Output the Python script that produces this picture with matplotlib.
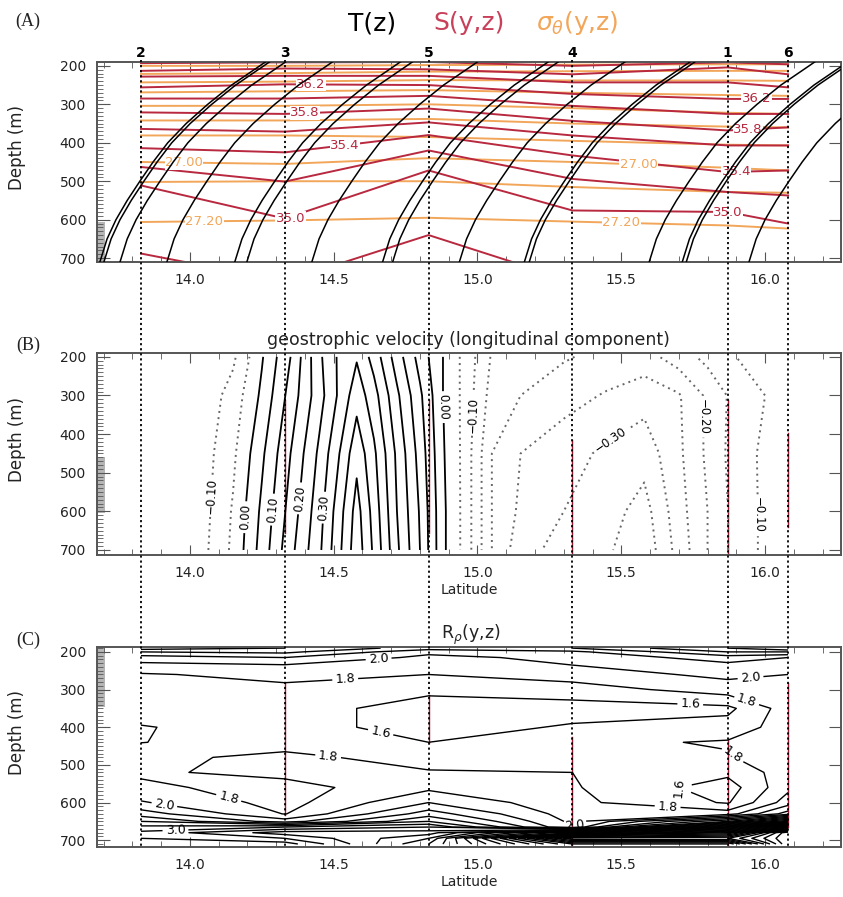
import numpy as np
import matplotlib
matplotlib.use("Agg")
import matplotlib.pyplot as plt
from matplotlib.patches import Rectangle
import matplotlib.transforms as mtransforms

plt.rcParams["font.family"] = ["DejaVu Sans"]

# stations, ordered by latitude
station_names = ["2", "3", "5", "4", "1", "6"]
station_lats = [13.83, 14.33, 14.83, 15.33, 15.87, 16.08]

# ---------------- panel A: T(z) profiles, S and sigma-theta isolines ----------------
t_profile_depth = [710, 650, 600, 550, 500, 450, 400, 350, 300, 250, 200, 185]
t_profile_shift = [0.0, 0.025, 0.056, 0.095, 0.139, 0.185, 0.236, 0.300, 0.375, 0.458, 0.556, 0.585]
t_bottom_lats = [13.687, 13.701, 13.757, 13.920, 14.156, 14.198, 14.424, 14.670,
                 14.705, 14.937, 15.163, 15.180, 15.597, 15.712, 15.726, 15.944]

sal_levels = [36.8, 36.6, 36.4, 36.2, 36.0, 35.8, 35.6, 35.4, 35.2, 35.0, 34.8]
sal_depths = [
    [193, 191, 190, 200, 191, 196],
    [213, 207, 209, 222, 204, 222],
    [228, 226, 226, 243, 243, 256],
    [256, 248, 250, 273, 286, 286],
    [285, 285, 278, 304, 325, 325],
    [321, 325, 311, 343, 368, 360],
    [364, 371, 347, 381, 407, 407],
    [414, 425, 380, 433, 476, 472],
    [463, 501, 420, 494, 528, 537],
    [511, 597, 472, 576, 580, 610],
    [688, 760, 640, 760, 760, 760],
]
sal_labels = ["36.2", "35.8", "35.4", "35.0", "36.2", "35.8", "35.4", "35.0"]
sal_label_lat = [14.42, 14.40, 14.54, 14.35, 15.97, 15.94, 15.90, 15.87]
sal_label_depth = [248, 322, 408, 596, 286, 365, 474, 580]

sig_levels = [26.3, 26.4, 26.5, 26.6, 26.7, 26.8, 26.9, 27.0, 27.1, 27.2]
sig_depths = [
    [200, 200, 198, 197, 196, 196],
    [221, 219, 215, 214, 213, 213],
    [243, 241, 237, 238, 238, 239],
    [269, 266, 263, 270, 276, 278],
    [304, 304, 300, 310, 322, 325],
    [342, 342, 338, 350, 358, 360],
    [381, 381, 385, 395, 405, 407],
    [450, 455, 440, 450, 465, 472],
    [502, 500, 500, 515, 528, 530],
    [606, 602, 595, 605, 615, 623],
]
sig_labels = ["27.00", "27.20", "27.00", "27.20"]
sig_label_lat = [13.98, 14.05, 15.56, 15.50]
sig_label_depth = [452, 604, 456, 608]

# ---------------- panel B: geostrophic velocity ----------------
v_lats = [13.83, 14.05, 14.15, 14.25, 14.35, 14.45, 14.52, 14.58, 14.64, 14.72, 14.80, 14.88,
          14.95, 15.05, 15.15, 15.30, 15.45, 15.58, 15.70, 15.80, 15.90, 16.00, 16.08]
v_depths = [200, 300, 450, 600, 700]
v_200 = [-0.14, -0.14, -0.11, -0.005, 0.10, 0.24, 0.31, 0.345, 0.28, 0.175, 0.08, 0.0,
         -0.06, -0.155, -0.17, -0.195, -0.215, -0.22, -0.175, -0.135, -0.10, -0.08, -0.07]
v_300 = [-0.13, -0.13, -0.08, 0.01, 0.12, 0.23, 0.31, 0.38, 0.32, 0.21, 0.11, 0.0,
         -0.06, -0.17, -0.20, -0.23, -0.255, -0.28, -0.255, -0.19, -0.13, -0.10, -0.08]
v_450 = [-0.12, -0.12, -0.06, 0.04, 0.15, 0.26, 0.35, 0.435, 0.36, 0.24, 0.13, 0.005,
         -0.06, -0.20, -0.25, -0.28, -0.31, -0.33, -0.26, -0.19, -0.125, -0.09, -0.07]
v_600 = [-0.12, -0.115, -0.045, 0.06, 0.17, 0.28, 0.38, 0.47, 0.38, 0.25, 0.145, 0.01,
         -0.06, -0.20, -0.26, -0.30, -0.33, -0.37, -0.27, -0.20, -0.13, -0.09, -0.07]
v_700 = [-0.12, -0.11, -0.04, 0.07, 0.185, 0.29, 0.39, 0.48, 0.39, 0.26, 0.15, 0.01,
         -0.06, -0.20, -0.28, -0.32, -0.343, -0.385, -0.28, -0.20, -0.13, -0.09, -0.07]
v_levels = [-0.40, -0.35, -0.30, -0.25, -0.20, -0.15, -0.10, -0.05,
            0.0, 0.05, 0.10, 0.15, 0.20, 0.25, 0.30, 0.35, 0.40, 0.45]
# label positions (lat, depth) for each labelled level
v_label_pos = {
    -0.30: [(15.45, 400)],
    -0.20: [(15.77, 355)],
    -0.10: [(14.09, 560), (14.98, 350), (15.94, 610)],
    0.0: [(14.19, 615), (14.885, 330)],
    0.10: [(14.28, 595)],
    0.20: [(14.36, 565)],
    0.30: [(14.46, 590)],
}

# ---------------- panel C: density ratio ----------------
rr_depths = [190, 200, 215, 235, 260, 300, 350, 400, 440, 480, 520, 560, 600, 630, 650, 665, 680, 695, 710]
rr_st2 = [2.7, 2.4, 2.1, 1.95, 1.78, 1.7, 1.68, 1.59, 1.595, 1.74, 1.77, 1.84, 2.02, 2.3, 2.6, 2.85, 3.05, 3.0, 2.8]
rr_st3 = [2.6, 2.45, 2.2, 1.99, 1.86, 1.75, 1.7, 1.68, 1.7, 1.86, 1.86, 1.72, 1.72, 1.79, 2.1, 3.0, 3.5, 3.2, 2.9]
rr_st5 = [2.3, 2.05, 1.95, 1.88, 1.8, 1.65, 1.5, 1.52, 1.6, 1.7, 1.82, 1.95, 2.2, 2.5, 2.8, 3.2, 3.5, 3.8, 4.0]
rr_st4 = [2.4, 2.15, 2.05, 2.0, 1.9, 1.7, 1.52, 1.62, 1.75, 1.78, 1.8, 1.82, 1.85, 1.9, 1.95, 2.0, 5.0, 7.0, 6.0]
rr_st1 = [2.8, 2.6, 2.3, 2.15, 2.05, 1.9, 1.55, 1.68, 1.82, 1.78, 1.65, 1.5, 1.58, 1.9, 3.0, 4.5, 6.0, 7.0, 6.0]
rr_st6 = [3.0, 2.6, 2.2, 2.05, 2.0, 1.95, 1.9, 1.9, 1.95, 1.95, 1.9, 1.95, 2.1, 2.5, 4.0, 6.0, 8.0, 8.0, 8.0]
rr_levels = np.round(np.arange(1.4, 8.01, 0.2), 1)
rr_label_pos = {
    2.0: [(14.655, 205), (13.91, 612), (15.35, 673), (15.95, 274)],
    1.8: [(14.54, 272), (14.48, 482), (14.13, 602), (15.85, 500), (15.66, 625), (15.94, 320)],
    1.6: [(14.66, 425), (15.74, 336), (15.64, 593)],
    3.0: [(13.95, 678)],
}

# red profile segments (lat, top depth, bottom depth)
red_b = [(14.33, 311, 656), (14.83, 311, 656), (15.33, 415, 712), (15.87, 311, 712), (16.08, 397, 640)]
red_c = [(14.33, 282, 633), (14.83, 314, 442), (15.33, 426, 718), (15.87, 434, 718), (16.08, 282, 665)]
gray_band = [(607, 712), (459, 604), (187, 346)]

SAL_C = "#b8283f"
SIG_C = "#f2a65a"
W, H = 843, 897
LAT0, LAT1 = 13.677, 16.264
L, WID = 97 / W, 744 / W


def px_axes(top, bottom):
    return [L, 1 - bottom / H, WID, (bottom - top) / H]


def style_axes(ax, ylim, band, label_y):
    ax.set_xlim(LAT0, LAT1)
    ax.set_ylim(*ylim)
    ax.set_xticks([14.0, 14.5, 15.0, 15.5, 16.0])
    ax.set_xticklabels(["14.0", "14.5", "15.0", "15.5", "16.0"])
    ax.set_xticks(np.round(np.arange(13.7, 16.27, 0.1), 1), minor=True)
    ax.set_yticks([200, 300, 400, 500, 600, 700])
    ax.set_yticks(np.arange(190, 711, 10), minor=True)
    ax.tick_params(which="both", direction="in", top=True, right=True,
                   labelsize=10, labelcolor="#222222", color="#555555")
    ax.tick_params(axis="x", which="major", length=7, pad=8)
    ax.tick_params(axis="x", which="minor", length=4)
    ax.tick_params(axis="y", which="major", length=9, pad=8)
    ax.tick_params(axis="y", which="minor", length=4, right=False)
    for s in ax.spines.values():
        s.set_color("#555555")
        s.set_linewidth(1.4)
    trans = mtransforms.blended_transform_factory(ax.transAxes, ax.transData)
    ax.add_patch(Rectangle((0, band[0]), 0.011, band[1] - band[0], transform=trans,
                           fc="#b5b5b5", ec="none", zorder=1, clip_on=False))
    ax.set_ylabel("Depth (m)", fontsize=12, color="#222222")
    ax.yaxis.set_label_coords(-0.095, label_y)


def vfmt(v):
    if abs(v) < 1e-9:
        return "0.00"
    return f"{v:.2f}".replace("-", "\u2212")


def contour_levels(ax, x, y, z, levels, label_pos, fmt, fontsize, style):
    # one contour set per level, so manual labels land on the right line
    for lev in levels:
        kw = style(lev)
        cs = ax.contour(x, y, z, levels=[lev], **kw)
        for key, pos in label_pos.items():
            if abs(key - lev) < 1e-6:
                ax.clabel(cs, fmt=fmt, fontsize=fontsize, inline_spacing=3,
                          colors="k", manual=pos)


fig = plt.figure(figsize=(W / 100, H / 100), dpi=100)

# ---- panel A ----
axA = fig.add_axes(px_axes(62, 262))
style_axes(axA, (710, 192), gray_band[0], 0.57)
for deps in sig_depths:
    axA.plot(station_lats, deps, color=SIG_C, lw=1.4, zorder=2)
for deps in sal_depths:
    axA.plot(station_lats, deps, color=SAL_C, lw=1.4, zorder=2.1)
for txt, x, y in zip(sal_labels, sal_label_lat, sal_label_depth):
    axA.text(x, y, txt, color=SAL_C, fontsize=9.5, ha="center", va="center", zorder=3,
             bbox=dict(fc="white", ec="none", pad=0.3))
for txt, x, y in zip(sig_labels, sig_label_lat, sig_label_depth):
    axA.text(x, y, txt, color=SIG_C, fontsize=9.5, ha="center", va="center", zorder=3,
             bbox=dict(fc="white", ec="none", pad=0.3))
for b in t_bottom_lats:
    axA.plot(b + np.array(t_profile_shift), t_profile_depth, color="k", lw=1.1, zorder=4)

# ---- panel B ----
axB = fig.add_axes(px_axes(353, 555))
style_axes(axB, (713, 190), gray_band[1], 0.57)
V = np.array([v_200, v_300, v_450, v_600, v_700])


def v_style(lev):
    if lev < -1e-9:
        return dict(colors="#666666", linewidths=1.4, linestyles=[(0, (1, 2.2))])
    return dict(colors="k", linewidths=1.3, linestyles="solid")


contour_levels(axB, v_lats, v_depths, V, v_levels, v_label_pos, vfmt, 8.5, v_style)
for lat, d0, d1 in red_b:
    axB.plot([lat, lat], [d0, d1], color="#a01830", lw=1.0, zorder=1.5)
axB.set_xlabel("Latitude", fontsize=10, color="#222222", labelpad=2)

# ---- panel C ----
axC = fig.add_axes(px_axes(647, 847))
style_axes(axC, (718, 187), gray_band[2], 0.575)
RR = np.column_stack([rr_st2, rr_st3, rr_st5, rr_st4, rr_st1, rr_st6])
contour_levels(axC, station_lats, rr_depths, RR, rr_levels, rr_label_pos, "%.1f", 9,
               lambda lev: dict(colors="k", linewidths=1.0))
for lat, d0, d1 in red_c:
    axC.plot([lat, lat], [d0, d1], color="#a01830", lw=1.0, zorder=1.5)
axC.set_xlabel("Latitude", fontsize=10, color="#222222", labelpad=2)

# ---- overlay: station lines and numbers ----
ov = fig.add_axes([L, 0, WID, 1])
ov.set_xlim(LAT0, LAT1)
ov.set_ylim(H, 0)
ov.axis("off")
ov.patch.set_alpha(0)
ov.vlines(station_lats, 60, 848, colors="k", linestyles=[(0, (1.2, 1.6))], lw=1.3)
for name, lat in zip(station_names, station_lats):
    ov.text(lat, 53, name, ha="center", va="center", fontsize=10, fontweight="bold")


# ---- titles ----
def ftext(x, y, s, **kw):
    fig.text(x / W, 1 - y / H, s, ha="center", va="center", **kw)


ftext(372, 23, "T(z)", fontsize=18, color="k")
ftext(469, 23, "S(y,z)", fontsize=18, color="#c8405a")
ftext(577, 23, r"$\sigma_\theta$(y,z)", fontsize=18, color=SIG_C)
ftext(468, 340, "geostrophic velocity (longitudinal component)", fontsize=12.5, color="#222222")
ftext(471, 635, r"R$_\rho$(y,z)", fontsize=12.5, color="#222222")
for lab, y in [("(A)", 21), ("(B)", 345), ("(C)", 640)]:
    ftext(28, y, lab, fontsize=13, family="Liberation Serif", color="#222222")

fig.savefig("out.png", dpi=100)
